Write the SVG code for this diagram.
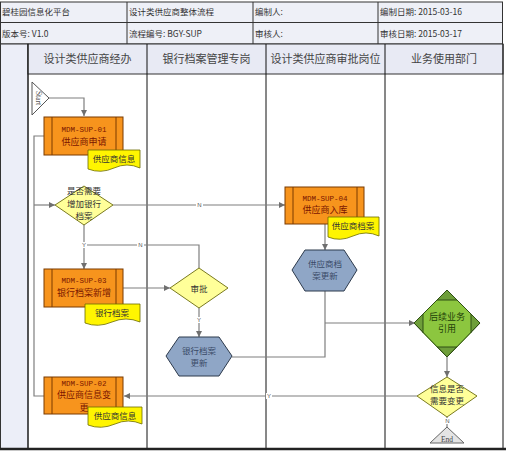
<svg xmlns="http://www.w3.org/2000/svg" width="506" height="453" viewBox="0 0 506 453">
<style>
.hd{font-family:"Noto Sans CJK SC","Liberation Serif",serif;font-size:8.5px;fill:#333}
.ln{font-family:"Noto Sans CJK SC","Liberation Sans",sans-serif;font-size:11px;fill:#444;text-anchor:middle}
.box{fill:#F7941D;stroke:#7a3b00;stroke-width:1}
.bl{stroke:#7a3b00;stroke-width:1}
.bt{font-family:"Liberation Mono",monospace;font-size:7.5px;fill:#7a1500;text-anchor:middle}
.bc{font-family:"Noto Sans CJK SC",sans-serif;font-size:9px;fill:#7a1500;text-anchor:middle}
.doc{fill:#FFF500;stroke:#6b6b00;stroke-width:0.8}
.dt{font-family:"Noto Sans CJK SC",sans-serif;font-size:8.5px;fill:#333;text-anchor:middle}
.dia{fill:#FFFF99;stroke:#7a7a20;stroke-width:1}
.dtx{font-family:"Noto Sans CJK SC",sans-serif;font-size:8.5px;fill:#333;text-anchor:middle}
.hex{fill:#8FA6C6;stroke:#2d3a4c;stroke-width:1}
.ht{font-family:"Noto Sans CJK SC",sans-serif;font-size:8.5px;fill:#3a4a66;text-anchor:middle}
.c{fill:none;stroke:#7f7f7f;stroke-width:1.2}
.lb{font-family:"Liberation Sans",sans-serif;font-size:6px;fill:#555;text-anchor:middle}
</style>
<defs>
<marker id="ar" viewBox="0 0 10 10" refX="10" refY="5" markerWidth="6" markerHeight="6" orient="auto" markerUnits="userSpaceOnUse">
<path d="M0,0 L10,5 L0,10 z" fill="#6f6f6f"/>
</marker>
</defs>
<rect width="506" height="453" fill="#fff"/>
<!-- header table -->
<g id="header">
<rect x="0.5" y="2" width="502" height="42" fill="#eef0f7" stroke="#333" stroke-width="1"/>
<line x1="0" y1="22.5" x2="503" y2="22.5" stroke="#333"/>
<line x1="127" y1="2" x2="127" y2="44" stroke="#333"/>
<line x1="253" y1="2" x2="253" y2="44" stroke="#333"/>
<line x1="378" y1="2" x2="378" y2="44" stroke="#333"/>
<text class="hd" x="2" y="15">碧桂园信息化平台</text>
<text class="hd" x="129" y="15">设计类供应商整体流程</text>
<text class="hd" x="255" y="15">编制人:</text>
<text class="hd" x="380" y="15">编制日期: 2015-03-16</text>
<text class="hd" x="2" y="37">版本号: V1.0</text>
<text class="hd" x="129" y="37">流程编号: BGY-SUP</text>
<text class="hd" x="255" y="37">审核人:</text>
<text class="hd" x="380" y="37">审核日期: 2015-03-17</text>
</g>
<!-- lanes -->
<g id="lanes">
<rect x="0.5" y="44" width="27.5" height="405" fill="#eceef8" stroke="#333"/>
<rect x="28" y="44" width="475" height="30" fill="#e8eaf4" stroke="#333"/>
<line x1="28" y1="44" x2="28" y2="449" stroke="#111"/>
<line x1="147" y1="44" x2="147" y2="449" stroke="#111"/>
<line x1="266" y1="44" x2="266" y2="449" stroke="#111"/>
<line x1="385" y1="44" x2="385" y2="449" stroke="#111"/>
<line x1="503" y1="44" x2="503" y2="449" stroke="#111"/>
<line x1="0" y1="449" x2="506" y2="449" stroke="#222" stroke-width="2.5"/>
<text class="ln" x="87.5" y="63">设计类供应商经办</text>
<text class="ln" x="206.5" y="63">银行档案管理专岗</text>
<text class="ln" x="325.5" y="63">设计类供应商审批岗位</text>
<text class="ln" x="444" y="63">业务使用部门</text>
</g>
<!-- connectors -->
<g id="connectors">
<path class="c" d="M49,98 H84 V116" marker-end="url(#ar)"/>
<path class="c" d="M44,136 H34 V396 H44"/>
<path class="c" d="M34,205 H55" marker-end="url(#ar)"/>
<path class="c" d="M113,205 H285" marker-end="url(#ar)"/>
<path class="c" d="M84,225 V269" marker-end="url(#ar)"/>
<path class="c" d="M199,268 V245 H84"/>
<path class="c" d="M123,288 H170" marker-end="url(#ar)"/>
<path class="c" d="M199,308 V337" marker-end="url(#ar)"/>
<path class="c" d="M325,224 V250" marker-end="url(#ar)"/>
<path class="c" d="M325,291 V357 H232"/>
<path class="c" d="M325,323 H415" marker-end="url(#ar)"/>
<path class="c" d="M447,357 V377" marker-end="url(#ar)"/>
<path class="c" d="M417,396 H124" marker-end="url(#ar)"/>
<path class="c" d="M447,417 V427"/>
<rect x="196" y="202" width="7" height="6" fill="#fff"/><text class="lb" x="199.5" y="207">N</text>
<rect x="137" y="242" width="7" height="6" fill="#fff"/><text class="lb" x="140.5" y="247">N</text>
<rect x="81" y="242" width="6" height="6" fill="#fff"/><text class="lb" x="84" y="247">Y</text>
<rect x="196" y="317" width="6" height="6" fill="#fff"/><text class="lb" x="199" y="322">Y</text>
<rect x="266" y="393" width="6" height="6" fill="#fff"/><text class="lb" x="269" y="398">Y</text>
<rect x="444" y="418" width="7" height="6" fill="#fff"/><text class="lb" x="447.5" y="423">N</text>
</g>
<!-- nodes -->
<g id="start">
<polygon points="32,82 49,98 32,115" fill="#fff" stroke="#555" stroke-width="1"/>
<text x="36" y="98" transform="rotate(90 36 98)" font-family="Liberation Serif,serif" font-size="7.5" fill="#555" text-anchor="middle">Start</text>
</g>
<g id="sup01">
<rect class="box" x="44" y="117" width="79" height="38"/>
<line class="bl" x1="52" y1="117" x2="52" y2="155"/><line class="bl" x1="116" y1="117" x2="116" y2="155"/>
<text class="bt" x="84" y="132">MDM-SUP-01</text>
<text class="bc" x="84" y="145">供应商申请</text>
</g>
<g id="doc01">
<path class="doc" d="M88,150 H140 V168 Q127,162 114,168 Q101,174 88,169 Z"/>
<text class="dt" x="114" y="162">供应商信息</text>
</g>
<g id="dec1">
<polygon class="dia" points="84,186 113,205 84,225 55,205"/>
<text class="dtx" x="84" y="194">是否需要</text>
<text class="dtx" x="84" y="206.5">增加银行</text>
<text class="dtx" x="84" y="219">档案</text>
</g>
<g id="sup04">
<rect class="box" x="285" y="187" width="79" height="37"/>
<line class="bl" x1="293" y1="187" x2="293" y2="224"/><line class="bl" x1="357" y1="187" x2="357" y2="224"/>
<text class="bt" x="325" y="201">MDM-SUP-04</text>
<text class="bc" x="325" y="213">供应商入库</text>
</g>
<g id="doc04">
<path class="doc" d="M328,217 H379 V236 Q366,230 353,236 Q340,242 328,237 Z"/>
<text class="dt" x="353" y="229">供应商档案</text>
</g>
<g id="sup03">
<rect class="box" x="44" y="269" width="79" height="38"/>
<line class="bl" x1="52" y1="269" x2="52" y2="307"/><line class="bl" x1="116" y1="269" x2="116" y2="307"/>
<text class="bt" x="84" y="283">MDM-SUP-03</text>
<text class="bc" x="84" y="296">银行档案新增</text>
</g>
<g id="doc03">
<path class="doc" d="M85,304 H140 V322 Q126,316 112,322 Q98,328 85,323 Z"/>
<text class="dt" x="112" y="316">银行档案</text>
</g>
<g id="approve">
<polygon class="dia" points="199,268 228,288 199,308 170,288"/>
<text class="dtx" x="199" y="292">审批</text>
</g>
<g id="hexbank">
<polygon class="hex" points="166,356 179,337 219,337 232,356 219,376 179,376"/>
<text class="ht" x="199" y="354">银行档案</text>
<text class="ht" x="199" y="366">更新</text>
</g>
<g id="hexsup">
<polygon class="hex" points="292,270 305,250 344,250 357,270 344,291 305,291"/>
<text class="ht" x="325" y="267">供应商档</text>
<text class="ht" x="325" y="279">案更新</text>
</g>
<g id="use">
<polygon points="447,290 480,323 447,357 414,323" fill="#6E9E3A" stroke="#2f4f14" stroke-width="1"/>
<polygon points="437,300 457,300 471,314 471,333 457,347 437,347 423,333 423,314" fill="#8CC63F"/>
<line x1="437" y1="300" x2="457" y2="300" stroke="#2f4f14"/>
<line x1="437" y1="347" x2="457" y2="347" stroke="#2f4f14"/>
<line x1="423" y1="314" x2="423" y2="333" stroke="#2f4f14"/>
<line x1="471" y1="314" x2="471" y2="333" stroke="#2f4f14"/>
<polygon points="447,290 480,323 447,357 414,323" fill="none" stroke="#2f4f14" stroke-width="1"/>
<text x="447" y="320" font-family="Noto Sans CJK SC,sans-serif" font-size="9" fill="#1f3f08" text-anchor="middle">后续业务</text>
<text x="447" y="332" font-family="Noto Sans CJK SC,sans-serif" font-size="9" fill="#1f3f08" text-anchor="middle">引用</text>
</g>
<g id="dec2">
<polygon class="dia" points="447,377 477,396 447,417 417,396"/>
<text class="dtx" x="447" y="392">信息是否</text>
<text class="dtx" x="447" y="404">需要变更</text>
</g>
<g id="end">
<polygon points="447,427 464,443 430,443" fill="#e4e4e4" stroke="#666" stroke-width="1"/>
<text x="447" y="441.5" font-family="Liberation Serif,serif" font-size="7.5" fill="#444" text-anchor="middle">End</text>
</g>
<g id="sup02">
<rect class="box" x="44" y="377" width="79" height="37"/>
<line class="bl" x1="52" y1="377" x2="52" y2="414"/><line class="bl" x1="116" y1="377" x2="116" y2="414"/>
<text class="bt" x="84" y="385.5">MDM-SUP-02</text>
<text class="bc" x="84" y="398" font-size="8.5">供应商信息变</text>
<text class="bc" x="84" y="410.5" font-size="8.5">更</text>
</g>
<g id="doc02">
<path class="doc" d="M88,407 H142 V424 Q128,418 115,424 Q101,430 88,425 Z"/>
<text class="dt" x="115" y="419">供应商信息</text>
</g>
</svg>
